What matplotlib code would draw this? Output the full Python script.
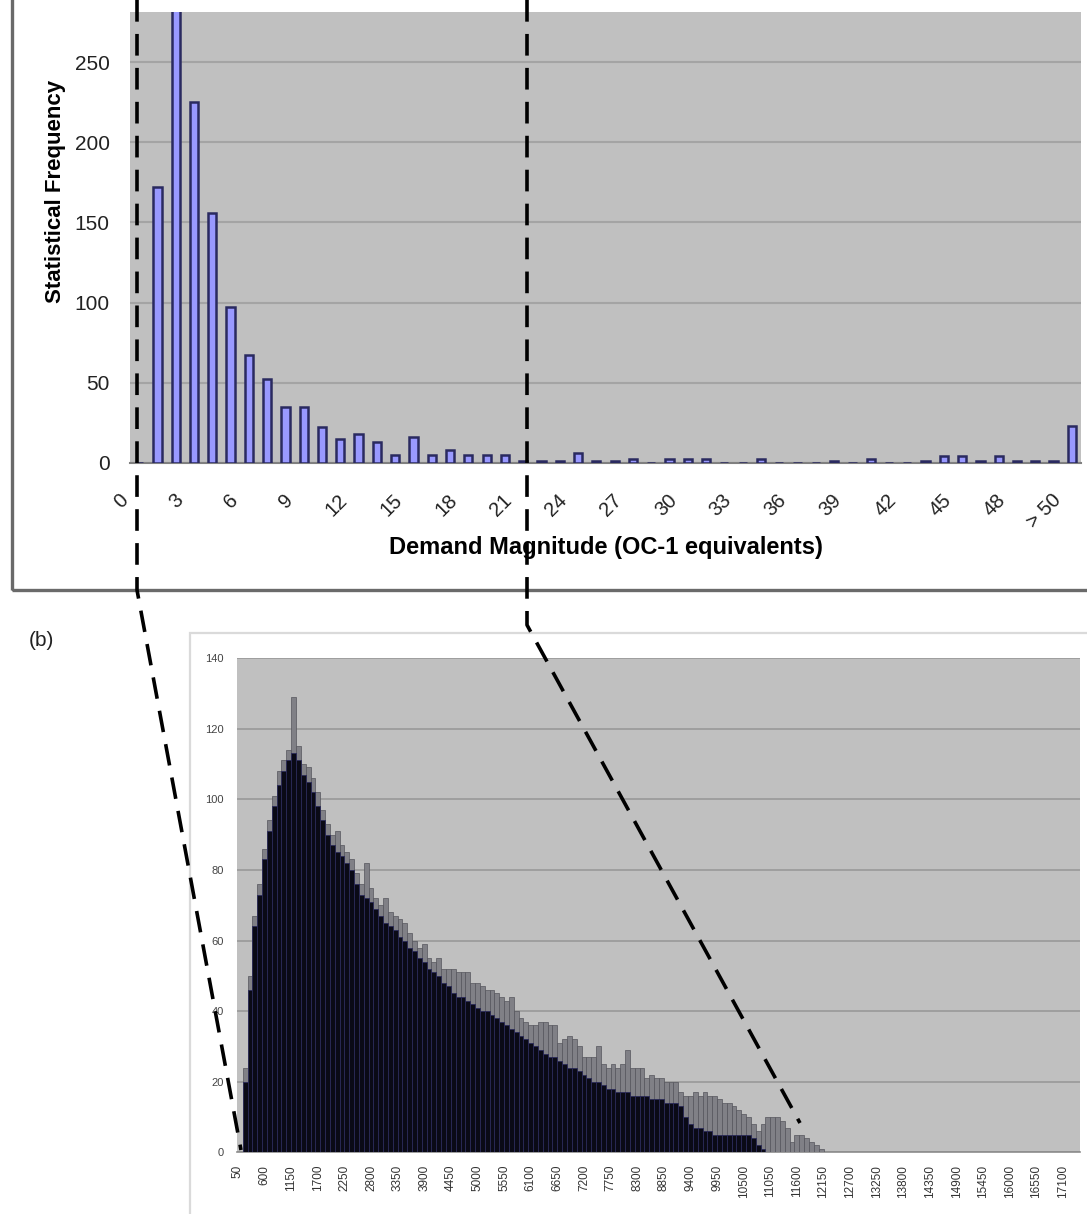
import numpy as np
import matplotlib
matplotlib.use("Agg")
import matplotlib.pyplot as plt
from matplotlib.lines import Line2D
from matplotlib.patches import Rectangle
from matplotlib.transforms import ScaledTranslation

plt.rcParams['font.family'] = ['Liberation Sans', 'DejaVu Sans']

W, H, DPI = 1087, 1214, 100

# ---------------- Panel (a): demand magnitude histogram ----------------
top_categories = [str(i) for i in range(51)] + ['> 50']
top_freq = [0, 172, 295, 225, 156, 97, 67, 52, 35, 35,
            22, 15, 18, 13, 5, 16, 5, 8, 5, 5,
            5, 1, 1, 1, 6, 1, 1, 2, 0, 2,
            2, 2, 0, 0, 2, 0, 0, 0, 1, 0,
            2, 0, 0, 1, 4, 4, 1, 4, 1, 1,
            1, 23]
top_tick_labels = ['0', '3', '6', '9', '12', '15', '18', '21', '24', '27', '30',
                   '33', '36', '39', '42', '45', '48', '> 50']
top_yticks = [0, 50, 100, 150, 200, 250]

# ---------------- Panel (b): fine-grained histogram ----------------
bin_start = 50
bin_width = 100
# upper (light grey fringe) envelope per 100-unit bin
freq_peak = [0, 24, 50, 67, 76, 86, 94, 101, 108, 111,
             114, 129, 115, 110, 109, 106, 102, 97, 93, 90,
             91, 87, 85, 83, 79, 76, 82, 75, 72, 70,
             72, 68, 67, 66, 65, 62, 60, 58, 59, 55,
             54, 55, 52, 52, 52, 51, 51, 51, 48, 48,
             47, 46, 46, 45, 44, 43, 44, 40, 38, 37,
             36, 36, 37, 37, 36, 36, 31, 32, 33, 32,
             30, 27, 27, 27, 30, 25, 24, 25, 24, 25,
             29, 24, 24, 24, 21, 22, 21, 21, 20, 20,
             20, 17, 16, 16, 17, 16, 17, 16, 16, 15,
             14, 14, 13, 12, 11, 10, 8, 6, 8, 10,
             10, 10, 9, 7, 3, 5, 5, 4, 3, 2,
             1, 0]
# solid dark body per 100-unit bin
freq_body = [0, 20, 46, 64, 73, 83, 91, 98, 104, 108,
             111, 113, 111, 107, 105, 102, 98, 94, 90, 87,
             85, 84, 82, 80, 76, 73, 72, 71, 69, 67,
             65, 64, 63, 61, 60, 58, 57, 55, 54, 52,
             51, 50, 48, 47, 45, 44, 44, 43, 42, 41,
             40, 40, 39, 38, 37, 36, 35, 34, 33, 32,
             31, 30, 29, 28, 27, 27, 26, 25, 24, 24,
             23, 22, 21, 20, 20, 19, 18, 18, 17, 17,
             17, 16, 16, 16, 16, 15, 15, 15, 14, 14,
             14, 13, 10, 8, 7, 7, 6, 6, 5, 5,
             5, 5, 5, 5, 5, 5, 4, 2, 1, 0,
             0, 0, 0, 0, 0, 0, 0, 0, 0, 0,
             0, 0]
bottom_tick_values = [50 + 550 * k for k in range(32)]
bottom_yticks = [0, 20, 40, 60, 80, 100, 120, 140]

fig = plt.figure(figsize=(W / DPI, H / DPI), dpi=DPI)


def px_axes(l, t, r, b):
    return fig.add_axes([l / W, 1 - b / H, (r - l) / W, (b - t) / H])


def fig_xy(x, y):
    return x / W, 1 - y / H


# chart-area frames
x0, y0 = fig_xy(12, 590)
fig.add_artist(Rectangle((x0, y0), (1110 - 12) / W, (620) / H, transform=fig.transFigure,
                         fill=False, ec='#6a6a6a', lw=2.4, zorder=0))
x0, y0 = fig_xy(190, 1240)
fig.add_artist(Rectangle((x0, y0), (1110 - 190) / W, (1240 - 633) / H, transform=fig.transFigure,
                         fill=False, ec='#dadada', lw=1.6, zorder=0))

# ---- top axes ----
ax1 = px_axes(130, 12, 1081, 462.7)
ax1.set_facecolor('#c0c0c0')
xpos = np.arange(len(top_categories))
ax1.bar(xpos, top_freq, width=0.45, color='#9999ff', edgecolor='#2a2a60', lw=1.8, zorder=3)
ax1.set_xlim(-0.5, len(top_categories) - 0.5)
ax1.set_ylim(0, 281.4)
ax1.set_yticks(top_yticks)
ax1.set_yticklabels([str(v) for v in top_yticks], fontsize=15, color='#222222')
ax1.yaxis.grid(True, color='#a4a4a4', lw=1.5, zorder=0)
ax1.set_axisbelow(True)
for s in ['top', 'right', 'left']:
    ax1.spines[s].set_visible(False)
ax1.spines['bottom'].set_color('#808080')
ax1.spines['bottom'].set_linewidth(1.5)
ax1.tick_params(axis='y', length=0, pad=14.5)
ax1.tick_params(axis='x', length=0, pad=24.7)
tick_idx = list(range(0, 51, 3)) + [51]
ax1.set_xticks(tick_idx)
ax1.set_xticklabels(top_tick_labels, rotation=45, ha='right', va='center',
                    rotation_mode='anchor', fontsize=14.5, color='#222222')
off = ScaledTranslation(-14 / DPI, 0, fig.dpi_scale_trans)
for lab in ax1.get_xticklabels():
    lab.set_transform(lab.get_transform() + off)
ax1.set_xlabel('Demand Magnitude (OC-1 equivalents)', fontsize=17, fontweight='bold',
               va='center', ha='center')
ax1.xaxis.set_label_coords((606 - 130) / 951, -(548 - 462.7) / 450.7)
ax1.set_ylabel('Statistical Frequency', fontsize=16, fontweight='bold', va='center', ha='center')
ax1.yaxis.set_label_coords((55 - 130) / 951, (462.7 - 191) / 450.7)

# ---- bottom axes ----
ax2 = px_axes(236.7, 658, 1080, 1152.4)
ax2.set_facecolor('#c0c0c0')
centers = bin_start + bin_width * (np.arange(len(freq_peak)) + 0.5)
ax2.bar(centers, freq_peak, width=bin_width, color='#808086', edgecolor='#55555c', lw=0.5, zorder=3)
ax2.bar(centers, freq_body, width=bin_width, color='#0a0a16', edgecolor='#2a2a58', lw=0.6, zorder=4)
ax2.set_xlim(25, 17450)
ax2.set_ylim(0, 140)
ax2.set_yticks(bottom_yticks)
ax2.set_yticklabels([str(v) for v in bottom_yticks], fontsize=8, color='#444444')
ax2.yaxis.grid(True, color='#9c9c9c', lw=1.3, zorder=0)
ax2.set_axisbelow(True)
for s in ['top', 'right', 'left']:
    ax2.spines[s].set_visible(False)
ax2.spines['bottom'].set_color('#8c8c8c')
ax2.spines['bottom'].set_linewidth(1.2)
ax2.tick_params(axis='y', length=0, pad=9.5)
ax2.set_xticks(bottom_tick_values)
ax2.set_xticklabels([str(v) for v in bottom_tick_values], rotation=90, fontsize=8.5,
                    color='#333333', va='top', ha='center')
ax2.tick_params(axis='x', length=0, pad=9)

fig.text(41 / W, 1 - 641 / H, '(b)', fontsize=15, ha='center', va='center', color='#222222')

# dashed zoom connectors
dash = (0, (6, 3.4))
lx = [137, 137, 241]
ly = [0, 590, 1150]
fig.add_artist(Line2D([x / W for x in lx], [1 - y / H for y in ly], transform=fig.transFigure,
                      color='black', lw=2.6, linestyle=dash, zorder=10))
rx = [527, 527, 800]
ry = [0, 625, 1123]
fig.add_artist(Line2D([x / W for x in rx], [1 - y / H for y in ry], transform=fig.transFigure,
                      color='black', lw=2.6, linestyle=dash, zorder=10))

fig.savefig('out.png', dpi=DPI, facecolor='white')
